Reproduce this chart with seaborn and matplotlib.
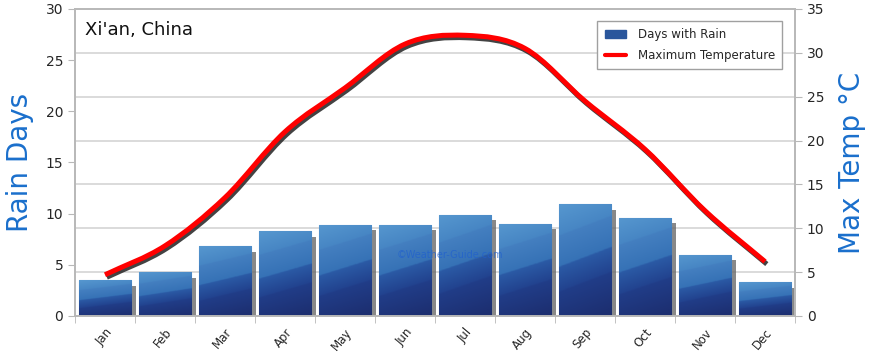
import numpy as np
import matplotlib
matplotlib.use('Agg')
import matplotlib.pyplot as plt
import matplotlib.patheffects as pe
from matplotlib.path import Path
from matplotlib.patches import PathPatch, Patch
from matplotlib.lines import Line2D
from matplotlib.colors import LinearSegmentedColormap
import seaborn as sns

# data
months = ['Jan', 'Feb', 'Mar', 'Apr', 'May', 'Jun', 'Jul', 'Aug', 'Sep', 'Oct', 'Nov', 'Dec']
rain_days = [3.5, 4.3, 6.8, 8.3, 8.9, 8.9, 9.9, 9.0, 10.9, 9.6, 6.0, 3.3]
max_temp = [4.7, 8.0, 13.5, 21.0, 26.0, 31.0, 32.0, 30.5, 24.5, 19.0, 12.0, 6.2]
rain_ticks = [0, 5, 10, 15, 20, 25, 30]
temp_ticks = [0, 5, 10, 15, 20, 25, 30, 35]

sns.set_style('white')
plt.rcParams['font.family'] = ['DejaVu Sans']

blue_lbl = '#1a6fcc'
grid_c = '#d4d4d4'
spine_c = '#b8b8b8'

fig = plt.figure(figsize=(8.7, 3.52), dpi=100)
ax = fig.add_axes([0.0862, 0.1023, 0.8276, 0.8722])

# bars
sns.barplot(x=months, y=rain_days, ax=ax, color='#2f5d9f', width=0.88,
            saturation=1, zorder=2, edgecolor='#6fa3d6', linewidth=0.8)

# banded gradient fill clipped to each bar (bands rise to the right)
cmap = LinearSegmentedColormap.from_list('bars', [
    (0.00, '#1c2d6e'), (0.33, '#213d88'), (0.34, '#22438f'), (0.52, '#2b5aa5'),
    (0.53, '#3672b6'), (0.76, '#447fc0'), (0.77, '#4786c4'), (1.00, '#5697cf')])
gy = np.linspace(0, 1, 160)[:, None]
gx = np.linspace(0, 1, 40)[None, :]
grad = np.clip(gy * 0.85 + 0.15 * (1 - gx), 0, 1)
for p in ax.patches:
    p.set_path_effects([pe.SimplePatchShadow(offset=(3.5, -4), shadow_rgbFace='#6a6a6a', alpha=0.8),
                        pe.Normal()])
    x0, y0 = p.get_x(), p.get_y()
    w, h = p.get_width(), p.get_height()
    im = ax.imshow(grad, extent=[x0, x0 + w, y0, y0 + h], origin='lower',
                   aspect='auto', cmap=cmap, vmin=0, vmax=1, zorder=2.1,
                   interpolation='bilinear')
    im.set_clip_path(p)

ax.set_xlim(-0.5, 11.5)
ax.set_ylim(0, 30)
ax.set_yticks(rain_ticks)
ax.tick_params(axis='y', labelsize=10, length=5, color=spine_c, direction='out', left=True)
# gridlines follow the right axis
ax.set_yticks([t * 30 / 35 for t in temp_ticks[1:]], minor=True)
ax.yaxis.grid(True, which='minor', color=grid_c, lw=1.2)
ax.yaxis.grid(False, which='major')
ax.xaxis.grid(False, which='both')
ax.set_axisbelow(True)
ax.tick_params(axis='y', which='minor', length=0)

ax.set_xticks(range(len(months)))
ax.set_xticklabels(months, rotation=50, ha='right', rotation_mode='anchor', fontsize=8.5)
ax.set_xticks(np.arange(-0.5, 12, 1), minor=True)
ax.tick_params(axis='x', which='major', length=0, pad=7)
ax.tick_params(axis='x', which='minor', length=5, color=spine_c, direction='out', bottom=True)
ax.set_xlabel('')
ax.set_ylabel('Rain Days', color=blue_lbl, fontsize=20, labelpad=8)

for s in ax.spines.values():
    s.set_color(spine_c)
    s.set_linewidth(1.2)

ax.text(0.014, 0.93, "Xi'an, China", transform=ax.transAxes, fontsize=13,
        va='center', ha='left', color='#111111')
ax.text(0.52, 0.2, '\u00a9Weather-Guide.com', transform=ax.transAxes, fontsize=7,
        color='#1f5fcf', alpha=0.7, ha='center', va='center', zorder=3)

# temperature line on right axis (smooth Catmull-Rom path)
ax2 = ax.twinx()
ax2.set_ylim(0, 35)
ax2.set_yticks(temp_ticks)
ax2.tick_params(axis='y', labelsize=10, length=5, color=spine_c, direction='out', right=True)
ax2.grid(False)
for s in ax2.spines.values():
    s.set_color(spine_c)
    s.set_linewidth(1.2)
ax2.set_ylabel('Max Temp \u00b0C', color=blue_lbl, fontsize=20, labelpad=10)

xs = np.arange(len(max_temp), dtype=float)
ys = np.array(max_temp, dtype=float)
pts = np.column_stack([xs, ys])
tang = np.zeros_like(pts)
tang[1:-1] = (pts[2:] - pts[:-2]) / 2
tang[0] = pts[1] - pts[0]
tang[-1] = pts[-1] - pts[-2]
verts = [pts[0]]
codes = [Path.MOVETO]
for i in range(len(pts) - 1):
    verts += [pts[i] + tang[i] / 3, pts[i + 1] - tang[i + 1] / 3, pts[i + 1]]
    codes += [Path.CURVE4] * 3
line = PathPatch(Path(verts, codes), fill=False, edgecolor='#ff0000', lw=3.6,
                 capstyle='butt', joinstyle='round', zorder=4)
line.set_path_effects([pe.SimpleLineShadow(offset=(1.3, -1.8), shadow_color='#222222', alpha=0.85),
                       pe.Normal()])
ax2.add_patch(line)

handles = [Patch(facecolor='#2a569c', edgecolor='#2a569c'),
           Line2D([0], [0], color='#ff0000', lw=3)]
leg = ax2.legend(handles, ['Days with Rain', 'Maximum Temperature'], loc='upper right',
                 bbox_to_anchor=(0.99, 0.98), fontsize=8.5, fancybox=False, framealpha=1,
                 edgecolor='#a0a0a0', handlelength=1.8, borderpad=0.6, labelspacing=0.7,
                 handletextpad=1.0)
leg.get_frame().set_linewidth(1)

plt.savefig('out.png', dpi=100)
